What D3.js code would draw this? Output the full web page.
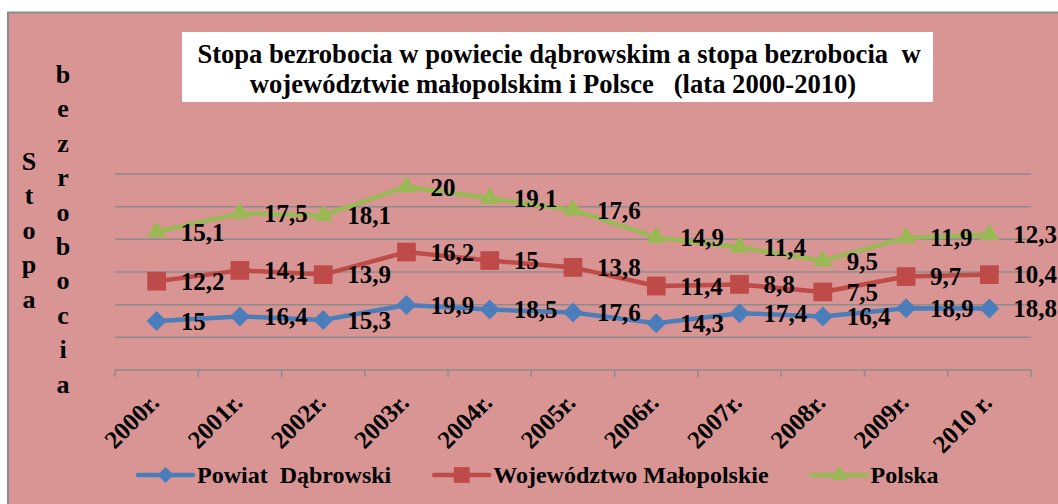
<!DOCTYPE html>
<html>
<head>
<meta charset="utf-8">
<script src="https://cdn.jsdelivr.net/npm/d3@7"></script>
<style>
  body { margin: 0; background: #fff; }
  svg text { font-family: "Liberation Serif", "DejaVu Serif", serif; font-weight: bold; }
</style>
</head>
<body>
<div id="canvas"></div>
<script>
const canvas = d3.select("#canvas");

const years = ["2000r.", "2001r.", "2002r.", "2003r.", "2004r.", "2005r.", "2006r.", "2007r.", "2008r.", "2009r.", "2010 r."];
const powiat = [15, 16.4, 15.3, 19.9, 18.5, 17.6, 14.3, 17.4, 16.4, 18.9, 18.8];
const malopolska = [12.2, 14.1, 13.9, 16.2, 15, 13.8, 11.4, 8.8, 7.5, 9.7, 10.4];
const polska = [15.1, 17.5, 18.1, 20, 19.1, 17.6, 14.9, 11.4, 9.5, 11.9, 12.3];
const seriesNames = ["Powiat  Dąbrowski", "Województwo Małopolskie", "Polska"];
const yTicks = [0, 10, 20, 30, 40, 50, 60];

const colors = ["#4A7EBB", "#BE4B48", "#98B954"];
const keys = ["s0", "s1", "s2"];

const width = 1058;
const height = 504;
const margin = { top: 174, left: 115, bottom: 134, right: 27 };
const iwidth = width - margin.left - margin.right;
const iheight = height - margin.top - margin.bottom;

const svg = canvas.append("svg")
    .attr("width", width)
    .attr("height", height)
    .attr("font-family", "'Liberation Serif', 'DejaVu Serif', serif")
    .attr("font-weight", "bold");

// chart area (only top + left border visible, rest is cropped)
svg.append("rect")
    .attr("x", 8).attr("y", 12.5)
    .attr("width", 1100).attr("height", 600)
    .attr("fill", "#D99594")
    .attr("stroke", "#8C8C8C")
    .attr("stroke-width", 2);

// title
svg.append("rect")
    .attr("x", 182).attr("y", 32)
    .attr("width", 751).attr("height", 70)
    .attr("fill", "#fff");

const title = svg.append("text")
    .attr("text-anchor", "middle")
    .style("font-size", "26.6px")
    .style("white-space", "pre");
title.append("tspan").attr("x", 559).attr("y", 63)
    .text("Stopa bezrobocia w powiecie dąbrowskim a stopa bezrobocia  w");
title.append("tspan").attr("x", 553).attr("y", 93)
    .text("województwie małopolskim i Polsce   (lata 2000-2010)");

// y axis title, letters stacked in two columns
const ytitle = [["Stopa", 29, 170], ["bezrobocia", 63, 83]];
ytitle.forEach(([word, x, y0]) => {
    const t = svg.append("text")
        .attr("text-anchor", "middle")
        .style("font-size", "26px");
    word.split("").forEach((ch, i) => {
        t.append("tspan").attr("x", x).attr("y", y0 + i * 34.4).text(ch);
    });
});

const g = svg.append("g").attr("transform", `translate(${margin.left},${margin.top})`);

const x = d3.scaleBand()
    .domain(years)
    .range([0, iwidth]);

const y = d3.scaleLinear()
    .domain([0, 60])
    .range([iheight, 0]);

// gridlines
g.selectAll("line.grid").data(yTicks.slice(1)).enter()
    .append("line")
    .attr("class", "grid")
    .attr("x1", 0).attr("x2", iwidth)
    .attr("y1", d => y(d)).attr("y2", d => y(d))
    .attr("stroke", "#8C8C8C")
    .attr("stroke-width", 1.5);

// x axis
const xAxis = g.append("g")
    .attr("transform", `translate(0, ${iheight})`);
xAxis.append("line")
    .attr("x1", 0).attr("x2", iwidth)
    .attr("stroke", "#8C8C8C").attr("stroke-width", 1.5);
xAxis.selectAll("line.tick").data(d3.range(years.length + 1)).enter()
    .append("line")
    .attr("class", "tick")
    .attr("x1", i => i * x.bandwidth()).attr("x2", i => i * x.bandwidth())
    .attr("y1", 0).attr("y2", 7)
    .attr("stroke", "#8C8C8C").attr("stroke-width", 1.5);
xAxis.selectAll("text").data(years).enter()
    .append("text")
    .attr("text-anchor", "end")
    .style("font-size", "25px")
    .attr("transform", d => `translate(${x(d) + x.bandwidth() / 2 + 4}, 34) rotate(-45)`)
    .text(d => d);

// stacked values
const rows = years.map((yr, i) => ({ year: yr, s0: powiat[i], s1: malopolska[i], s2: polska[i] }));
const stack = d3.stack().keys(keys)(rows);

const cx = d => x(d.data.year) + x.bandwidth() / 2;

const line = d3.line()
    .x(cx)
    .y(d => y(d[1]));

stack.forEach((layer, k) => {
    const s = g.append("g");
    s.append("path")
        .datum(layer)
        .attr("d", line)
        .attr("fill", "none")
        .attr("stroke", colors[k])
        .attr("stroke-width", 4.5)
        .attr("stroke-linejoin", "round");

    const sym = k === 0
        ? d3.symbol(d3.symbolSquare, 200)
        : k === 1 ? d3.symbol(d3.symbolSquare, 350) : d3.symbol(d3.symbolTriangle, 160);

    s.selectAll("path.mark").data(layer).enter()
        .append("path")
        .attr("class", "mark")
        .attr("d", sym)
        .attr("transform", d => `translate(${cx(d)},${y(d[1])})` + (k === 0 ? " rotate(45)" : ""))
        .attr("fill", colors[k]);

    s.selectAll("text").data(layer).enter()
        .append("text")
        .attr("x", d => cx(d) + 24)
        .attr("y", d => y(d[1]))
        .attr("dy", "0.35em")
        .style("font-size", "25px")
        .text(d => String(d.data[keys[k]]).replace(".", ","));
});

// legend
const legend = svg.append("g").attr("transform", "translate(138, 475)");
let lx = 0;
seriesNames.forEach((name, k) => {
    const item = legend.append("g").attr("transform", `translate(${lx}, 0)`);
    item.append("line")
        .attr("x1", 0).attr("x2", 55)
        .attr("stroke", colors[k]).attr("stroke-width", 4.5)
        .attr("stroke-linecap", "round");
    const sym = k === 0
        ? d3.symbol(d3.symbolSquare, 130)
        : k === 1 ? d3.symbol(d3.symbolSquare, 250) : d3.symbol(d3.symbolTriangle, 120);
    item.append("path")
        .attr("d", sym)
        .attr("transform", "translate(27.5,0)" + (k === 0 ? " rotate(45)" : ""))
        .attr("fill", colors[k]);
    const t = item.append("text")
        .attr("x", 59)
        .attr("dy", "0.35em")
        .style("font-size", "24px")
        .style("white-space", "pre")
        .text(name);
    lx += 59 + t.node().getComputedTextLength() + 43;
});
</script>
</body>
</html>
